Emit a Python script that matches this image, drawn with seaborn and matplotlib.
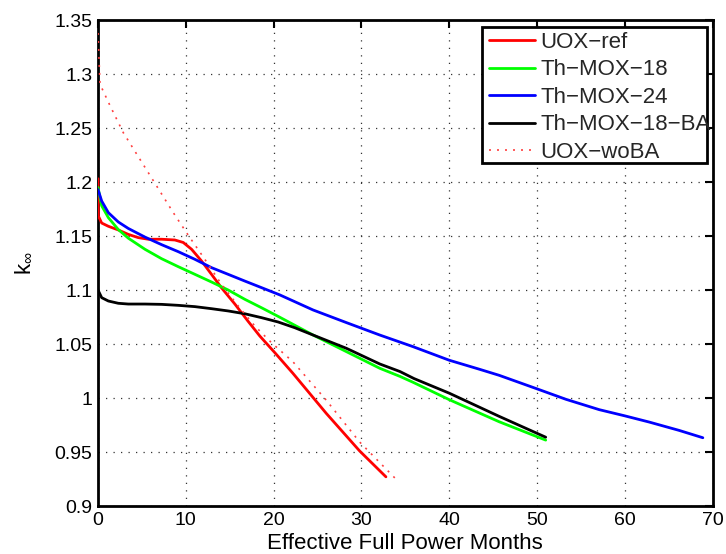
import numpy as np
import pandas as pd
import matplotlib
matplotlib.use("Agg")
import matplotlib.pyplot as plt
from matplotlib.patches import Rectangle
import seaborn as sns

# ---- data ----
uox_ref_x = [0, 0.04, 0.42, 1.18, 2.31, 3.45, 4.59, 5.73, 7.24, 8.76, 9.71, 10.66, 11.8,
             12.93, 14.07, 15.59, 17.1, 18.43, 20.14, 22.2, 26.0, 29.8, 32.8]
uox_ref_y = [1.203, 1.1685, 1.162, 1.159, 1.1556, 1.1515, 1.1485, 1.147, 1.147, 1.1463,
             1.144, 1.1377, 1.1268, 1.1145, 1.102, 1.087, 1.071, 1.0574, 1.042, 1.0229,
             0.9858, 0.951, 0.927]

th18_x = [0, 0.42, 1.18, 2.31, 3.45, 5.35, 7.24, 9.14, 11.04, 12.93, 14.83, 16.72, 18.62,
          20.7, 24.5, 28.3, 32.1, 34.4, 35.9, 40.0, 45.7, 51.0]
th18_y = [1.195, 1.178, 1.167, 1.156, 1.148, 1.1377, 1.129, 1.1216, 1.1145, 1.1074, 1.100,
          1.0914, 1.0836, 1.0748, 1.0583, 1.0429, 1.0275, 1.020, 1.0145, 0.9985, 0.978,
          0.961]

th24_x = [0, 0.42, 1.18, 2.31, 3.45, 5.35, 7.24, 9.14, 11.04, 12.93, 14.83, 16.72, 18.62,
          20.7, 24.5, 28.3, 32.1, 35.9, 40.0, 43.5, 45.7, 50.0, 53.3, 57.1, 60.0, 62.8,
          66.2, 68.9]
th24_y = [1.193, 1.1824, 1.1716, 1.163, 1.157, 1.149, 1.142, 1.1355, 1.1284, 1.1207,
          1.1145, 1.1083, 1.1022, 1.0955, 1.0815, 1.0698, 1.0583, 1.0475, 1.035, 1.0265,
          1.021, 1.0085, 0.9988, 0.9892, 0.9835, 0.9777, 0.970, 0.9632]

th18ba_x = [0, 0.42, 1.18, 2.31, 3.45, 5.35, 7.24, 9.14, 11.04, 12.93, 14.83, 16.72, 18.62,
            20.51, 22.41, 24.5, 28.3, 32.1, 34.4, 36.0, 40.0, 45.7, 51.0]
th18ba_y = [1.100, 1.0929, 1.0898, 1.0877, 1.087, 1.087, 1.0867, 1.0858, 1.0846, 1.0827,
            1.0806, 1.078, 1.0744, 1.0704, 1.0651, 1.0583, 1.046, 1.0315, 1.0245, 1.018,
            1.0045, 0.983, 0.9637]

uox_woba_x = [0, 0.23, 1.37, 2.88, 4.78, 6.68, 8.57, 10.09, 12.17, 14.07, 15.97, 17.86,
              19.76, 22.2, 26.0, 29.8, 34.0]
uox_woba_y = [1.338, 1.2905, 1.2707, 1.2457, 1.221, 1.1963, 1.1717, 1.153, 1.1284, 1.1052,
              1.0852, 1.0667, 1.0512, 1.0336, 0.998, 0.9593, 0.9244]

labels = ["UOX\u2212ref", "Th\u2212MOX\u221218", "Th\u2212MOX\u221224",
          "Th\u2212MOX\u221218\u2212BA", "UOX\u2212woBA"]
x_ticks = [0, 10, 20, 30, 40, 50, 60, 70]
y_ticks = [0.9, 0.95, 1.0, 1.05, 1.1, 1.15, 1.2, 1.25, 1.3, 1.35]
y_tick_labels = ["0.9", "0.95", "1", "1.05", "1.1", "1.15", "1.2", "1.25", "1.3", "1.35"]

series = [
    (uox_ref_x, uox_ref_y, labels[0], "#ff0000", "-", 2.0),
    (th18_x, th18_y, labels[1], "#00ff00", "-", 2.0),
    (th24_x, th24_y, labels[2], "#0000ff", "-", 2.0),
    (th18ba_x, th18ba_y, labels[3], "#000000", "-", 2.0),
    (uox_woba_x, uox_woba_y, labels[4], "#ff4040", (0, (1.2, 3.6)), 1.2),
]

sns.set_theme(style="white")
plt.rcParams["font.family"] = ["Liberation Sans", "DejaVu Sans"]
plt.rcParams["mathtext.fontset"] = "custom"
plt.rcParams["mathtext.rm"] = "Liberation Sans"
plt.rcParams["mathtext.it"] = "Liberation Sans"

W, H = 726, 554
L, R, T, B = 98, 712.5, 20, 506
fig = plt.figure(figsize=(W / 100, H / 100), dpi=100)
ax = fig.add_axes([L / W, 1 - B / H, (R - L) / W, (B - T) / H])

for xs, ys, lab, col, ls, lw in series:
    df = pd.DataFrame({"x": xs, "y": ys})
    sns.lineplot(data=df, x="x", y="y", ax=ax, color=col, linestyle=ls, linewidth=lw,
                 label=lab, estimator=None, sort=False, zorder=3)

ax.set_xlim(0, 70)
ax.set_ylim(0.9, 1.35)
ax.set_xticks(x_ticks)
ax.set_xticklabels([str(t) for t in x_ticks])
ax.set_yticks(y_ticks)
ax.set_yticklabels(y_tick_labels)
ax.tick_params(direction="in", length=6, width=1.5, top=True, right=True,
               labelsize=14, colors="black", pad=4)
for s in ax.spines.values():
    s.set_linewidth(2)
    s.set_color("black")
ax.grid(True, color="#333333", linestyle=(0, (1, 5)), linewidth=0.9)

ax.set_xlabel("Effective Full Power Months", fontsize=16, color="black", labelpad=3)
ax.set_ylabel(r"k$_{\infty}$", fontsize=16, color="black")
ax.yaxis.set_label_coords((34 - L) / (R - L), (B - 263) / (B - T))

# legend: MATLAB-style box (text may overflow the box as in the reference)
box = Rectangle((482 / W, 1 - 162.7 / H), (706.7 - 482) / W, (162.7 - 26.7) / H,
                transform=fig.transFigure, facecolor="white", edgecolor="black",
                linewidth=2, zorder=6)
fig.patches.append(box)
leg = ax.legend(loc="upper left", bbox_to_anchor=(489 / W, 1 - 32 / H),
                bbox_transform=fig.transFigure, borderaxespad=0, borderpad=0,
                fontsize=16, frameon=False, handlelength=2.05, handletextpad=0.27,
                labelspacing=0.29)
leg.set_zorder(7)
leg.remove()
fig.legends.append(leg)

fig.savefig("out.png", dpi=100)
